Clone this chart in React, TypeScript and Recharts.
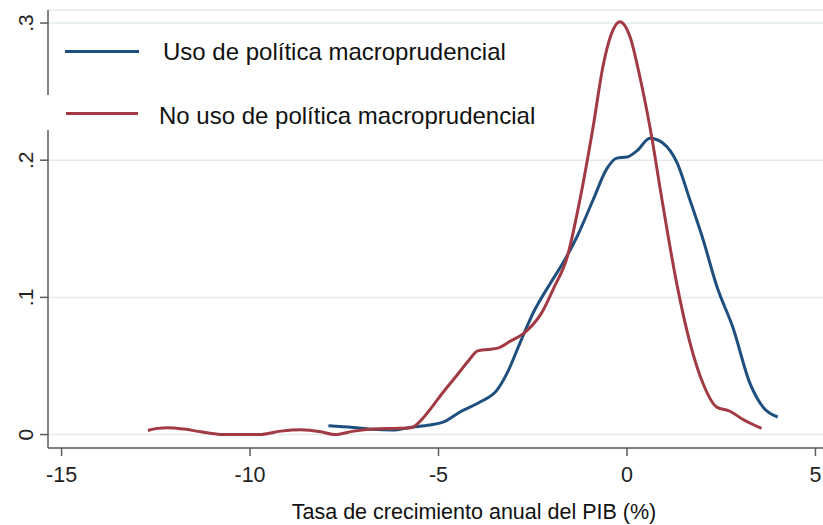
import React from "react";
import { LineChart, Line, XAxis, YAxis, CartesianGrid, Label } from "recharts";

const FONT = '"Liberation Sans", Arial, Helvetica, sans-serif';

// Density: "Uso de política macroprudencial"
const usoX = [-7.92, -7.27, -6.74, -6.21, -5.76, -5.23, -4.88, -4.43, -3.9, -3.45, -3.18, -2.84, -2.49, -2.04, -1.7, -1.33, -0.9, -0.53, -0.27, 0.0, 0.27, 0.61, 0.95, 1.33, 1.67, 2.02, 2.39, 2.81, 3.26, 3.61, 4.0];
const usoY = [0.0064, 0.0052, 0.0038, 0.0033, 0.0052, 0.0069, 0.009, 0.0164, 0.0237, 0.0324, 0.0448, 0.0667, 0.0886, 0.11, 0.125, 0.144, 0.171, 0.194, 0.2015, 0.2023, 0.207, 0.216, 0.2125, 0.198, 0.171, 0.142, 0.1075, 0.078, 0.0375, 0.02, 0.0128];

// Density: "No uso de política macroprudencial"
const noUsoX = [-12.71, -12.45, -12.18, -11.75, -11.3, -10.72, -10.2, -9.76, -9.18, -8.65, -8.12, -7.77, -7.24, -6.71, -6.18, -5.73, -5.38, -5.12, -4.93, -4.49, -4.2, -3.96, -3.7, -3.43, -3.1, -2.73, -2.5, -2.28, -1.94, -1.59, -1.25, -0.9, -0.64, -0.37, -0.19, 0.08, 0.34, 0.61, 0.96, 1.32, 1.67, 2.02, 2.38, 2.73, 3.08, 3.57];
const noUsoY = [0.003, 0.0045, 0.005, 0.004, 0.002, 0.0, 0.0, 0.0, 0.0025, 0.0035, 0.002, 0.0, 0.0025, 0.004, 0.0045, 0.005, 0.013, 0.022, 0.029, 0.044, 0.054, 0.061, 0.062, 0.063, 0.068, 0.074, 0.08, 0.088, 0.107, 0.129, 0.171, 0.224, 0.268, 0.295, 0.301, 0.29, 0.261, 0.224, 0.166, 0.11, 0.067, 0.037, 0.02, 0.017, 0.011, 0.0045];

const xTicks = [-15, -10, -5, 0, 5];
const yTicks = [0, 0.1, 0.2, 0.3];
const yTickLabels = ["0", ".1", ".2", ".3"];

const seriesNames = ["Uso de política macroprudencial", "No uso de política macroprudencial"];
const seriesColors = ["#1f4f7e", "#a23a44"];
const xTitle = "Tasa de crecimiento anual del PIB (%)";

const usoData = usoX.map((x, i) => ({ x, y: usoY[i] }));
const noUsoData = noUsoX.map((x, i) => ({ x, y: noUsoY[i] }));

const AXIS = "#5a5a5a";

const XTick = (props: any) => {
  const { x, y, payload } = props;
  return (
    <text x={x} y={y + 26} textAnchor="middle" fontSize={21.5} fontFamily={FONT} fill="#222">
      {String(payload.value)}
    </text>
  );
};

const YTick = (props: any) => {
  const { x, y, payload } = props;
  const idx = yTicks.indexOf(payload.value);
  const bx = x - 7;
  return (
    <text
      x={bx}
      y={y}
      transform={`rotate(-90, ${bx}, ${y})`}
      textAnchor="middle"
      fontSize={21}
      fontFamily={FONT}
      fill="#222"
    >
      {idx >= 0 ? yTickLabels[idx] : String(payload.value)}
    </text>
  );
};

const XTitle = (props: any) => {
  const vb = props.viewBox || { x: 48, y: 448, width: 775, height: 77 };
  return (
    <text x={vb.x + vb.width / 2 + 38.5} y={vb.y + 71} textAnchor="middle" fontSize={21.5} fontFamily={FONT} fill="#111">
      {xTitle}
    </text>
  );
};

export default function App() {
  return (
    <div style={{ position: "absolute", left: 0, top: 0, width: 823, height: 525, background: "#fff" }}>
      <LineChart width={823} height={525} margin={{ top: 10, right: 0, left: 0, bottom: 0 }}>
        <CartesianGrid horizontal vertical={false} stroke="#e2ebec" strokeWidth={1.5} />
        <XAxis
          type="number"
          dataKey="x"
          domain={[-15.36, 5.2]}
          ticks={xTicks}
          allowDataOverflow
          height={77}
          tickSize={8}
          tickMargin={0}
          stroke={AXIS}
          strokeWidth={1.5}
          tick={<XTick />}
        >
          <Label content={<XTitle />} />
        </XAxis>
        <YAxis
          type="number"
          dataKey="y"
          domain={[-0.0098, 0.3095]}
          ticks={yTicks}
          allowDataOverflow
          width={48}
          tickSize={8}
          tickMargin={0}
          stroke={AXIS}
          strokeWidth={1.5}
          tick={<YTick />}
        />
        <Line
          data={usoData}
          dataKey="y"
          name={seriesNames[0]}
          type="monotone"
          stroke={seriesColors[0]}
          strokeWidth={3}
          dot={false}
          activeDot={false}
          isAnimationActive={false}
        />
        <Line
          data={noUsoData}
          dataKey="y"
          name={seriesNames[1]}
          type="monotone"
          stroke={seriesColors[1]}
          strokeWidth={3}
          dot={false}
          activeDot={false}
          isAnimationActive={false}
        />
      </LineChart>
      {/* white gap on the y axis behind the legend */}
      <div style={{ position: "absolute", left: 45, top: 95, width: 7, height: 35, background: "#fff" }} />
      {/* legend */}
      <div style={{ position: "absolute", left: 65, top: 49.5, width: 74, height: 3, background: seriesColors[0] }} />
      <div
        style={{
          position: "absolute",
          left: 163,
          top: 60 - 22,
          fontFamily: FONT,
          fontSize: 24,
          lineHeight: "28px",
          color: "#111",
          whiteSpace: "nowrap",
        }}
      >
        {seriesNames[0]}
      </div>
      <div style={{ position: "absolute", left: 66, top: 112, width: 72, height: 3, background: seriesColors[1] }} />
      <div
        style={{
          position: "absolute",
          left: 159,
          top: 124 - 22,
          fontFamily: FONT,
          fontSize: 24,
          lineHeight: "28px",
          color: "#111",
          whiteSpace: "nowrap",
        }}
      >
        {seriesNames[1]}
      </div>
    </div>
  );
}
